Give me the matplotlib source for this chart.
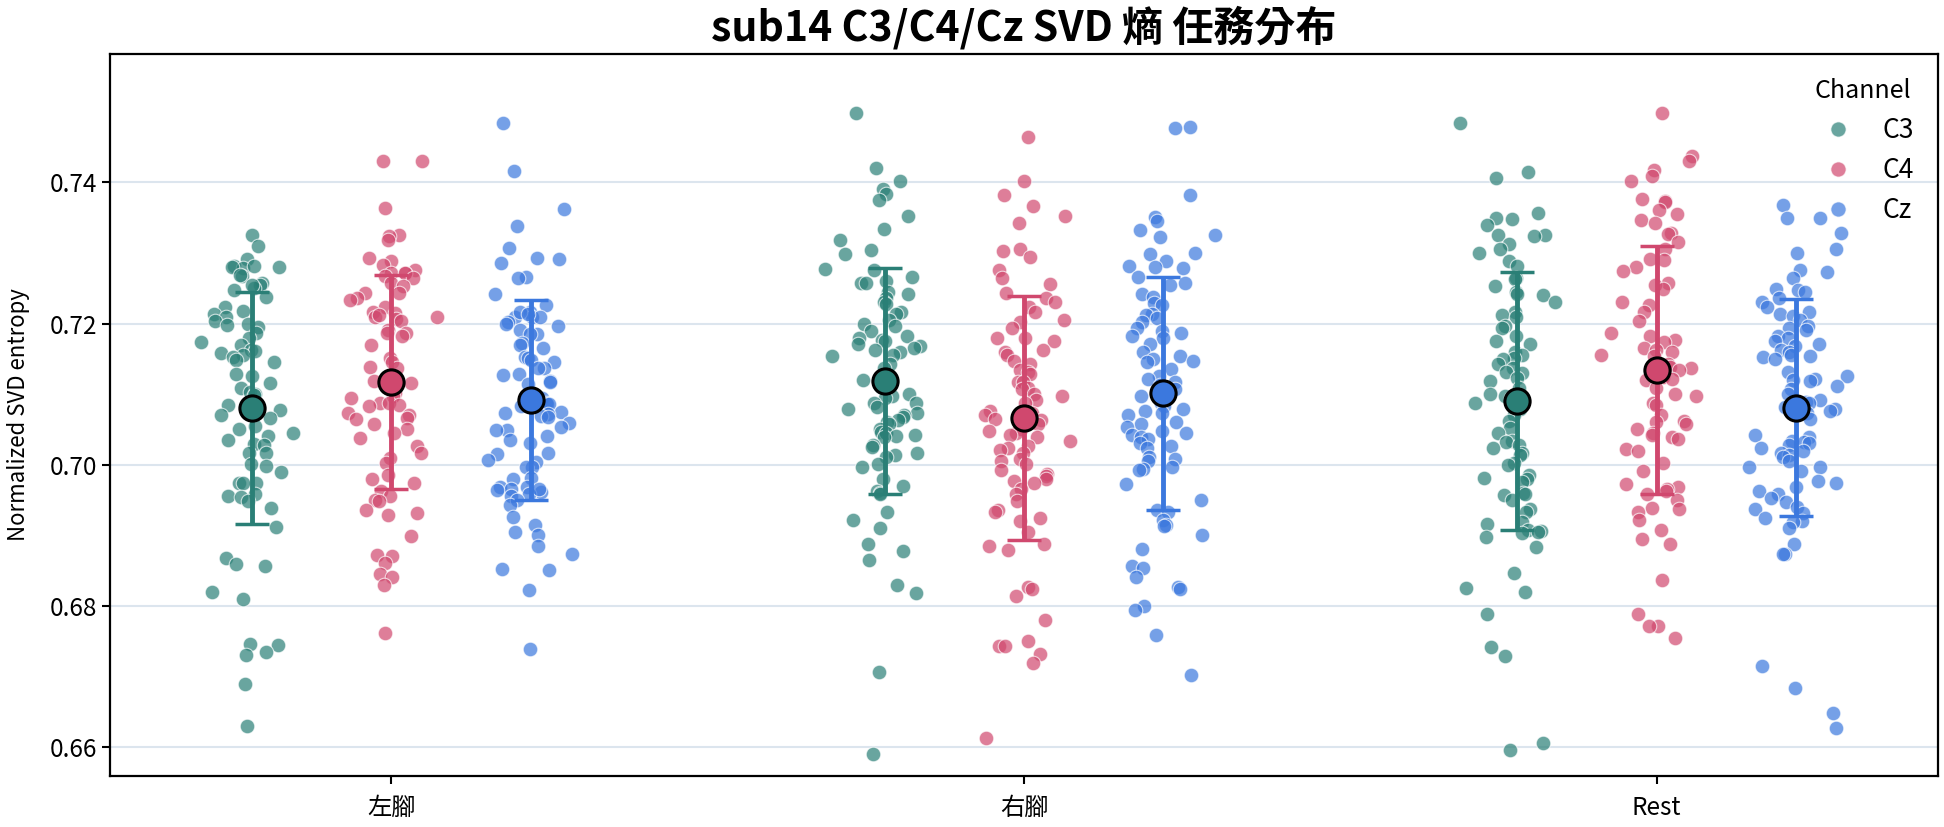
import numpy as np
import matplotlib
matplotlib.use("Agg")
import matplotlib.pyplot as plt
from matplotlib.lines import Line2D

plt.rcParams['font.family'] = ['Noto Sans CJK TC', 'DejaVu Sans']

tasks = ["左腳", "右腳", "Rest"]
channels = ["C3", "C4", "Cz"]
colors = {"C3": "#2a7f76", "C4": "#d0486e", "Cz": "#3b78de"}

lf_c3 = [0.7326, 0.7310, 0.7292, 0.7282, 0.7279, 0.7280, 0.7281, 0.7280, 0.7268, 0.7269,
         0.7258, 0.7254, 0.7250, 0.7247, 0.7254, 0.7237, 0.7224, 0.7218, 0.7213, 0.7209,
         0.7203, 0.7200, 0.7198, 0.7195, 0.7187, 0.7179, 0.7174, 0.7169, 0.7162, 0.7161,
         0.7158, 0.7155, 0.7153, 0.7149, 0.7145, 0.7129, 0.7126, 0.7116, 0.7109, 0.7103,
         0.7100, 0.7099, 0.7085, 0.7082, 0.7077, 0.7071, 0.7066, 0.7055, 0.7050, 0.7045,
         0.7040, 0.7035, 0.7029, 0.7028, 0.7016, 0.7017, 0.7001, 0.6998, 0.6990, 0.6974,
         0.6974, 0.6974, 0.6959, 0.6956, 0.6954, 0.6948, 0.6938, 0.6911, 0.6868, 0.6859,
         0.6857, 0.6820, 0.6809, 0.6746, 0.6744, 0.6734, 0.6730, 0.6689, 0.6629]
lf_c4 = [0.7431, 0.7431, 0.7364, 0.7326, 0.7324, 0.7319, 0.7293, 0.7288, 0.7283, 0.7276,
         0.7272, 0.7272, 0.7271, 0.7267, 0.7264, 0.7258, 0.7253, 0.7244, 0.7243, 0.7236,
         0.7234, 0.7224, 0.7217, 0.7215, 0.7210, 0.7209, 0.7212, 0.7206, 0.7203, 0.7191,
         0.7187, 0.7186, 0.7182, 0.7169, 0.7151, 0.7145, 0.7138, 0.7137, 0.7118, 0.7116,
         0.7101, 0.7098, 0.7087, 0.7088, 0.7094, 0.7083, 0.7084, 0.7073, 0.7071, 0.7064,
         0.7066, 0.7057, 0.7050, 0.7045, 0.7038, 0.7026, 0.7016, 0.7009, 0.7003, 0.6986,
         0.6980, 0.6974, 0.6962, 0.6956, 0.6950, 0.6948, 0.6935, 0.6932, 0.6928, 0.6899,
         0.6870, 0.6872, 0.6860, 0.6845, 0.6841, 0.6830, 0.6761]
lf_cz = [0.7485, 0.7416, 0.7362, 0.7339, 0.7307, 0.7293, 0.7292, 0.7286, 0.7266, 0.7264,
         0.7242, 0.7227, 0.7216, 0.7209, 0.7209, 0.7209, 0.7217, 0.7214, 0.7202, 0.7199,
         0.7197, 0.7191, 0.7185, 0.7185, 0.7172, 0.7169, 0.7165, 0.7153, 0.7151, 0.7148,
         0.7145, 0.7137, 0.7137, 0.7129, 0.7127, 0.7118, 0.7117, 0.7115, 0.7094, 0.7088,
         0.7086, 0.7086, 0.7083, 0.7075, 0.7073, 0.7072, 0.7069, 0.7067, 0.7059, 0.7053,
         0.7049, 0.7049, 0.7041, 0.7035, 0.7031, 0.7016, 0.7015, 0.7007, 0.7004, 0.6997,
         0.6996, 0.6981, 0.6980, 0.6969, 0.6968, 0.6966, 0.6964, 0.6961, 0.6958, 0.6966,
         0.6956, 0.6950, 0.6943, 0.6926, 0.6914, 0.6905, 0.6900, 0.6885, 0.6873, 0.6852,
         0.6851, 0.6822, 0.6739]
rf_c3 = [0.7498, 0.7421, 0.7402, 0.7391, 0.7383, 0.7375, 0.7353, 0.7334, 0.7319, 0.7304,
         0.7298, 0.7278, 0.7276, 0.7266, 0.7260, 0.7257, 0.7258, 0.7242, 0.7245, 0.7236,
         0.7231, 0.7228, 0.7217, 0.7214, 0.7205, 0.7199, 0.7196, 0.7190, 0.7183, 0.7180,
         0.7177, 0.7175, 0.7171, 0.7168, 0.7165, 0.7162, 0.7159, 0.7156, 0.7154, 0.7143,
         0.7137, 0.7122, 0.7120, 0.7116, 0.7110, 0.7100, 0.7098, 0.7094, 0.7088, 0.7087,
         0.7082, 0.7079, 0.7073, 0.7070, 0.7068, 0.7063, 0.7060, 0.7057, 0.7051, 0.7046,
         0.7045, 0.7042, 0.7040, 0.7039, 0.7028, 0.7025, 0.7017, 0.7014, 0.7011, 0.7001,
         0.6996, 0.6980, 0.6970, 0.6962, 0.6960, 0.6959, 0.6933, 0.6922, 0.6910, 0.6888,
         0.6877, 0.6865, 0.6830, 0.6818, 0.6706, 0.6590]
rf_c4 = [0.7465, 0.7402, 0.7382, 0.7366, 0.7353, 0.7343, 0.7306, 0.7303, 0.7295, 0.7276,
         0.7265, 0.7256, 0.7243, 0.7236, 0.7231, 0.7223, 0.7216, 0.7205, 0.7202, 0.7193,
         0.7179, 0.7179, 0.7175, 0.7163, 0.7159, 0.7156, 0.7147, 0.7143, 0.7134, 0.7131,
         0.7128, 0.7117, 0.7117, 0.7108, 0.7107, 0.7100, 0.7097, 0.7091, 0.7088, 0.7076,
         0.7073, 0.7070, 0.7065, 0.7063, 0.7057, 0.7051, 0.7048, 0.7045, 0.7042, 0.7039,
         0.7034, 0.7027, 0.7024, 0.7021, 0.7016, 0.7008, 0.7005, 0.7001, 0.6993, 0.6987,
         0.6984, 0.6980, 0.6977, 0.6974, 0.6965, 0.6958, 0.6948, 0.6935, 0.6933, 0.6925,
         0.6920, 0.6905, 0.6888, 0.6885, 0.6879, 0.6826, 0.6824, 0.6814, 0.6780, 0.6750,
         0.6743, 0.6743, 0.6731, 0.6719, 0.6613]
rf_cz = [0.7479, 0.7477, 0.7382, 0.7351, 0.7345, 0.7332, 0.7325, 0.7322, 0.7300, 0.7299,
         0.7289, 0.7282, 0.7280, 0.7279, 0.7266, 0.7257, 0.7254, 0.7242, 0.7237, 0.7229,
         0.7226, 0.7214, 0.7212, 0.7208, 0.7202, 0.7194, 0.7190, 0.7186, 0.7183, 0.7180,
         0.7171, 0.7159, 0.7154, 0.7150, 0.7147, 0.7145, 0.7135, 0.7125, 0.7122, 0.7117,
         0.7113, 0.7107, 0.7103, 0.7097, 0.7088, 0.7083, 0.7079, 0.7076, 0.7073, 0.7070,
         0.7060, 0.7057, 0.7054, 0.7048, 0.7045, 0.7042, 0.7039, 0.7037, 0.7030, 0.7027,
         0.7024, 0.7011, 0.7008, 0.7005, 0.6997, 0.6994, 0.6993, 0.6972, 0.6950, 0.6935,
         0.6933, 0.6922, 0.6914, 0.6913, 0.6900, 0.6880, 0.6857, 0.6854, 0.6841, 0.6826,
         0.6823, 0.6799, 0.6794, 0.6758, 0.6702]
rest_c3 = [0.7484, 0.7415, 0.7406, 0.7357, 0.7350, 0.7348, 0.7340, 0.7326, 0.7325, 0.7324,
           0.7313, 0.7306, 0.7300, 0.7289, 0.7282, 0.7265, 0.7263, 0.7253, 0.7245, 0.7242,
           0.7240, 0.7231, 0.7216, 0.7212, 0.7210, 0.7196, 0.7194, 0.7183, 0.7175, 0.7171,
           0.7159, 0.7156, 0.7151, 0.7150, 0.7143, 0.7137, 0.7132, 0.7130, 0.7123, 0.7119,
           0.7108, 0.7100, 0.7098, 0.7094, 0.7088, 0.7085, 0.7079, 0.7070, 0.7062, 0.7052,
           0.7045, 0.7034, 0.7032, 0.7028, 0.7023, 0.7017, 0.7014, 0.7002, 0.6999, 0.6985,
           0.6981, 0.6979, 0.6975, 0.6960, 0.6959, 0.6957, 0.6950, 0.6937, 0.6933, 0.6919,
           0.6916, 0.6908, 0.6906, 0.6904, 0.6903, 0.6898, 0.6883, 0.6846, 0.6825, 0.6820,
           0.6788, 0.6742, 0.6729, 0.6606, 0.6596]
rest_c4 = [0.7499, 0.7438, 0.7430, 0.7418, 0.7409, 0.7402, 0.7376, 0.7374, 0.7372, 0.7361,
           0.7355, 0.7347, 0.7343, 0.7329, 0.7327, 0.7316, 0.7305, 0.7292, 0.7290, 0.7280,
           0.7274, 0.7257, 0.7254, 0.7249, 0.7230, 0.7226, 0.7216, 0.7204, 0.7186, 0.7183,
           0.7177, 0.7174, 0.7165, 0.7162, 0.7159, 0.7156, 0.7154, 0.7142, 0.7139, 0.7137,
           0.7134, 0.7125, 0.7124, 0.7122, 0.7120, 0.7108, 0.7100, 0.7097, 0.7088, 0.7085,
           0.7071, 0.7062, 0.7060, 0.7057, 0.7051, 0.7045, 0.7042, 0.7039, 0.7036, 0.7022,
           0.7019, 0.7003, 0.6991, 0.6972, 0.6968, 0.6965, 0.6962, 0.6959, 0.6950, 0.6939,
           0.6937, 0.6933, 0.6922, 0.6908, 0.6895, 0.6888, 0.6837, 0.6788, 0.6771, 0.6771,
           0.6754]
rest_cz = [0.7368, 0.7350, 0.7349, 0.7329, 0.7306, 0.7300, 0.7276, 0.7273, 0.7265, 0.7249,
           0.7248, 0.7245, 0.7236, 0.7230, 0.7224, 0.7216, 0.7214, 0.7211, 0.7205, 0.7196,
           0.7194, 0.7191, 0.7183, 0.7180, 0.7175, 0.7171, 0.7168, 0.7162, 0.7159, 0.7156,
           0.7154, 0.7153, 0.7150, 0.7132, 0.7125, 0.7122, 0.7120, 0.7119, 0.7111, 0.7107,
           0.7100, 0.7091, 0.7089, 0.7088, 0.7082, 0.7079, 0.7076, 0.7073, 0.7065, 0.7042,
           0.7039, 0.7034, 0.7032, 0.7030, 0.7028, 0.7023, 0.7020, 0.7017, 0.7014, 0.7011,
           0.7005, 0.6997, 0.6996, 0.6991, 0.6977, 0.6974, 0.6968, 0.6962, 0.6959, 0.6953,
           0.6947, 0.6940, 0.6937, 0.6931, 0.6925, 0.6920, 0.6919, 0.6910, 0.6888, 0.6874,
           0.6873, 0.6714, 0.6683, 0.6648, 0.6626]

data = {
    ("左腳", "C3"): lf_c3, ("左腳", "C4"): lf_c4, ("左腳", "Cz"): lf_cz,
    ("右腳", "C3"): rf_c3, ("右腳", "C4"): rf_c4, ("右腳", "Cz"): rf_cz,
    ("Rest", "C3"): rest_c3, ("Rest", "C4"): rest_c4, ("Rest", "Cz"): rest_cz,
}

fig = plt.figure(figsize=(19.44, 8.27), dpi=100)
ax = fig.add_axes([0.0566, 0.062, 0.9403, 0.8726])

offsets = {"C3": -0.22, "C4": 0.0, "Cz": 0.22}
rng = np.random.default_rng(7)

for ti, task in enumerate(tasks):
    for ch in channels:
        vals = np.asarray(data[(task, ch)])
        jit = np.clip(rng.normal(0, 0.032, len(vals)), -0.095, 0.095)
        x = ti + offsets[ch] + jit
        ax.scatter(x, vals, s=110, color=colors[ch], alpha=0.7,
                   edgecolors="white", linewidths=0.8, zorder=3)
for ti, task in enumerate(tasks):
    for ch in channels:
        vals = np.asarray(data[(task, ch)])
        m, sd = vals.mean(), vals.std(ddof=1)
        ax.errorbar(ti + offsets[ch], m, yerr=sd, fmt="none", ecolor=colors[ch],
                    elinewidth=3.5, capsize=12, capthick=2.5, zorder=4)
        ax.scatter([ti + offsets[ch]], [m], s=330, color=colors[ch],
                   edgecolors="black", linewidths=2.2, zorder=5)

ax.set_xlim(-0.445, 2.445)
ax.set_ylim(0.6559, 0.7582)
ax.set_xticks(range(len(tasks)))
ax.set_xticklabels(tasks)
ax.set_yticks([0.66, 0.68, 0.70, 0.72, 0.74])
ax.set_yticklabels(["0.66", "0.68", "0.70", "0.72", "0.74"])
ax.tick_params(axis="both", labelsize=17.5, length=6, width=1.5)
ax.tick_params(axis="x", pad=8)
ax.yaxis.grid(True, color="#dce5ee", linewidth=1.5, zorder=0)
ax.set_axisbelow(True)
for sp in ax.spines.values():
    sp.set_linewidth(1.6)
ax.set_ylabel("Normalized SVD entropy", fontsize=16, labelpad=14)
ax.set_title("sub14 C3/C4/Cz SVD 熵 任務分布", fontsize=29.5, fontweight="bold", pad=10)

handles = [Line2D([], [], marker="o", linestyle="none", markersize=11,
                  markerfacecolor=colors[ch], markeredgecolor="white",
                  markeredgewidth=0.8, alpha=0.7) for ch in channels]
leg = ax.legend(handles, channels, title="Channel", loc="upper right", frameon=False,
                fontsize=19, title_fontsize=18, handletextpad=0.7, labelspacing=0.5,
                bbox_to_anchor=(1.0, 1.0))

fig.savefig("out.png", dpi=100)
